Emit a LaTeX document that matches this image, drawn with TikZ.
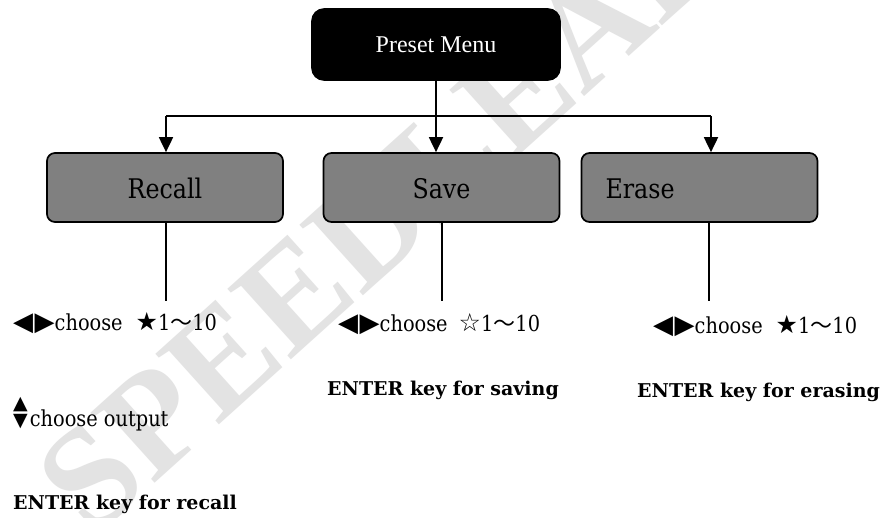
\documentclass[tikz,border=0pt]{standalone}
\usepackage{fontspec}
\setmainfont{DejaVu Serif}[FakeStretch=0.88]
\newfontfamily\keyf{DejaVu Serif}
\newfontfamily\timesf{Liberation Serif}
\newfontfamily\symf{DejaVu Sans}
\newfontfamily\cjkf{Noto Sans CJK SC}
\usetikzlibrary{arrows.meta}

\tikzset{
  menubox/.style={draw=black, line width=1.6pt, fill=black, text=white,
    rounded corners=12pt, minimum width=248pt, minimum height=71pt,
    text height=17pt, text depth=0pt,
    font=\timesf\fontsize{24}{24}\selectfont},
  itembox/.style={draw=black, line width=1.7pt, fill={rgb,255:red,128;green,128;blue,128},
    rounded corners=8pt, minimum width=236pt, minimum height=69pt,
    text height=23pt, text depth=0pt,
    font=\fontsize{27}{27}\selectfont},
  conn/.style={line width=1.8pt, black},
  arr/.style={conn, -{Triangle[length=15pt,width=14pt]}},
  note/.style={anchor=base west, inner sep=0pt, font=\fontsize{22}{26}\selectfont},
  keynote/.style={anchor=base west, inner sep=0pt, font=\keyf\bfseries\fontsize{19}{22}\selectfont},
  wmark/.style={anchor=base west, inner sep=0pt, text=gray!22,
    font=\timesf\bfseries\fontsize{145}{145}\selectfont}
}
% arrow keys, stars and the wide tilde
\newcommand{\lr}{{\symf\fontsize{26}{26}\selectfont ◀\hspace{1.5pt}▶}}
\newcommand{\bstar}{{\symf\fontsize{25}{25}\selectfont ★}}
\newcommand{\wstar}{{\symf\fontsize{25}{25}\selectfont ☆}}
\newcommand{\tl}{{\cjkf ～}}
\newcommand{\ud}{{\symf\fontsize{19}{19}\selectfont\rlap{\raisebox{17pt}{▲}}▼}}

\begin{document}
\begin{tikzpicture}[x=1pt, y=-1pt]
  \useasboundingbox (0,0) rectangle (885,518);
  \fill[white] (0,0) rectangle (885,518);

  % watermark
  \begin{scope}
    \clip (0,0) rectangle (885,518);
    \node[wmark, rotate=42] (wm) at (92,540) {SPEEDLEADER};
  \end{scope}

  % boxes
  \node[menubox] (pm) at (436,44.5) {Preset Menu};
  \node[itembox] (recall) at (165,187.5) {Recall};
  \node[itembox] (save) at (441.5,187.5) {Save};
  \node[itembox, text width=188pt, inner xsep=24pt, align=left] (erase) at (699.5,187.5) {Erase};

  % connectors from the menu
  \coordinate (bL) at (166,116);
  \coordinate (bR) at (711,116);
  \draw[conn] (bL) -- (bR);
  \draw[arr] (bL) -- (bL |- recall.north);
  \draw[arr] (bR) -- (bR |- erase.north);
  \draw[arr] (pm.south) -- (pm.south |- save.north);

  % stems under the boxes
  \coordinate (rEnd) at (166,301);
  \coordinate (sEnd) at (442,301);
  \coordinate (eEnd) at (709,301);
  \draw[conn] (recall.south -| rEnd) -- (rEnd);
  \draw[conn] (save.south -| sEnd) -- (sEnd);
  \draw[conn] (erase.south -| eEnd) -- (eEnd);

  % recall notes
  \node[note] (rc1) at (13,330) {\lr choose\hspace{13pt}\bstar 1\tl 10};
  \node[note] (rc2) at (13,426) {\ud\hspace{2pt}choose output};
  \node[keynote] (rc3) at (13,509) {ENTER key for recall};

  % save notes
  \node[note] (sv1) at (338,331) {\lr choose\hspace{11pt}\wstar 1\tl 10};
  \node[keynote] (sv2) at (327,395) {ENTER key for saving};

  % erase notes
  \node[note] (er1) at (653,333) {\lr choose\hspace{13pt}\bstar 1\tl 10};
  \node[keynote] (er2) at (637,397) {ENTER key for erasing};
\end{tikzpicture}
\end{document}
